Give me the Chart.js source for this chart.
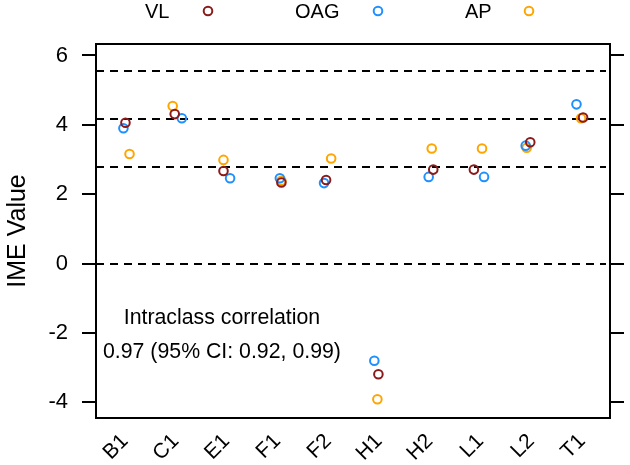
<!DOCTYPE html>
<html>
<head>
<meta charset="utf-8">
<script src="https://cdn.jsdelivr.net/npm/chart.js@4.4.1/dist/chart.umd.min.js"></script>
<style>
  html, body { margin: 0; padding: 0; background: #fff; }
  canvas { display: block; }
</style>
</head>
<body>
<canvas id="imeChart" width="630" height="465"></canvas>
<script>
const categories = ['B1', 'C1', 'E1', 'F1', 'F2', 'H1', 'H2', 'L1', 'L2', 'T1'];
const vlValues  = [4.06, 4.31, 2.67, 2.34, 2.41, -3.19, 2.71, 2.71, 3.50, 4.21];
const oagValues = [3.90, 4.19, 2.46, 2.46, 2.32, -2.80, 2.50, 2.50, 3.40, 4.59];
const apValues  = [3.16, 4.54, 2.99, 2.39, 3.03, -3.91, 3.32, 3.32, 3.34, 4.19];
// horizontal jitter of each point around its category
const vlJitter  = [0.01, -0.02, -0.06, 0.08, -0.04, -0.01, 0.07, -0.13, -0.02, 0.02];
const oagJitter = [-0.03, 0.12, 0.07, 0.05, -0.08, -0.09, -0.02, 0.07, -0.11, -0.11];
const apJitter  = [0.09, -0.06, -0.06, 0.08, 0.06, -0.03, 0.04, 0.03, -0.09, -0.02];
const yTicks = [-4, -2, 0, 2, 4, 6];
const refLines = [5.55, 4.17, 2.79, 0];
const iccText = ['Intraclass correlation', '0.97 (95% CI: 0.92, 0.99)'];

const FONT = '"Liberation Sans", Arial, sans-serif';

function toPoints(values, jitter) {
    return values.map((v, i) => ({ x: i + 1 + jitter[i], y: v }));
}

function series(label, values, jitter, color) {
    return {
        label: label,
        data: toPoints(values, jitter),
        borderColor: color,
        backgroundColor: 'rgba(0,0,0,0)',
        pointRadius: 4.3,
        pointHoverRadius: 4.3,
        pointBorderWidth: 2,
        showLine: false
    };
}

const framePlugin = {
    id: 'frame',
    beforeDatasetsDraw(chart) {
        const { ctx, chartArea: a, scales } = chart;
        const y = scales.y, x = scales.x;
        ctx.save();
        ctx.strokeStyle = '#000';
        ctx.lineWidth = 2;
        ctx.setLineDash([8, 6]);
        refLines.forEach(v => {
            const py = Math.round(y.getPixelForValue(v));
            ctx.beginPath();
            ctx.moveTo(a.left, py);
            ctx.lineTo(a.right - 4, py);
            ctx.stroke();
        });
        ctx.setLineDash([]);
        ctx.strokeRect(a.left, a.top, a.right - a.left, a.bottom - a.top);

        // ICC annotation
        ctx.fillStyle = '#000';
        ctx.font = '21.3px ' + FONT;
        ctx.textAlign = 'center';
        ctx.textBaseline = 'middle';
        ctx.fillText(iccText[0], x.getPixelForValue(2.91), y.getPixelForValue(-1.57));
        ctx.fillText(iccText[1], x.getPixelForValue(2.91), y.getPixelForValue(-2.55));
        ctx.restore();
    },
    afterDraw(chart) {
        // legend: label first, marker after it
        const { ctx } = chart;
        const textX = [145, 295, 465];
        const markX = [208, 378, 529];
        ctx.save();
        ctx.font = '20px ' + FONT;
        ctx.textAlign = 'left';
        ctx.textBaseline = 'middle';
        chart.data.datasets.forEach((ds, i) => {
            ctx.fillStyle = '#000';
            ctx.fillText(ds.label, textX[i], 12);
            ctx.strokeStyle = ds.borderColor;
            ctx.lineWidth = 2;
            ctx.beginPath();
            ctx.arc(markX[i], 11, 4.3, 0, Math.PI * 2);
            ctx.stroke();
        });
        ctx.restore();
    }
};

new Chart(document.getElementById('imeChart'), {
    type: 'scatter',
    data: {
        datasets: [
            series('VL', vlValues, vlJitter, '#8B1A1A'),
            series('OAG', oagValues, oagJitter, '#1E90FF'),
            series('AP', apValues, apJitter, '#FFA500')
        ]
    },
    options: {
        responsive: false,
        animation: false,
        devicePixelRatio: 1,
        layout: { padding: { top: 44, left: 0, right: 0, bottom: 0 } },
        plugins: {
            legend: { display: false },
            tooltip: { enabled: false }
        },
        scales: {
            x: {
                type: 'linear',
                min: 0.43,
                max: 10.55,
                afterBuildTicks: s => { s.ticks = categories.map((c, i) => ({ value: i + 1 })); },
                afterFit: s => { s.height = 47; },
                grid: { display: false, drawTicks: false },
                border: { display: false },
                ticks: {
                    autoSkip: false,
                    minRotation: 45,
                    maxRotation: 45,
                    padding: 11,
                    color: '#000',
                    font: { family: FONT, size: 21 },
                    callback: v => categories[v - 1]
                }
            },
            y: {
                position: 'left',
                min: -4.45,
                max: 6.33,
                afterBuildTicks: s => { s.ticks = yTicks.map(v => ({ value: v })); },
                afterFit: s => { s.width = 96; },
                grid: { drawOnChartArea: false, drawTicks: true, tickLength: 14, color: '#000', lineWidth: 2 },
                border: { display: false },
                ticks: {
                    padding: 14,
                    color: '#000',
                    font: { family: FONT, size: 22 }
                },
                title: {
                    display: true,
                    text: 'IME Value',
                    color: '#000',
                    font: { family: FONT, size: 25 },
                    padding: { top: 3, bottom: 0 }
                }
            },
            y2: {
                position: 'right',
                min: -4.45,
                max: 6.33,
                afterBuildTicks: s => { s.ticks = yTicks.map(v => ({ value: v })); },
                afterFit: s => { s.width = 20; },
                grid: { drawOnChartArea: false, drawTicks: true, tickLength: 14, color: '#000', lineWidth: 2 },
                border: { display: false },
                ticks: { display: false }
            }
        }
    },
    plugins: [framePlugin]
});
</script>
</body>
</html>
